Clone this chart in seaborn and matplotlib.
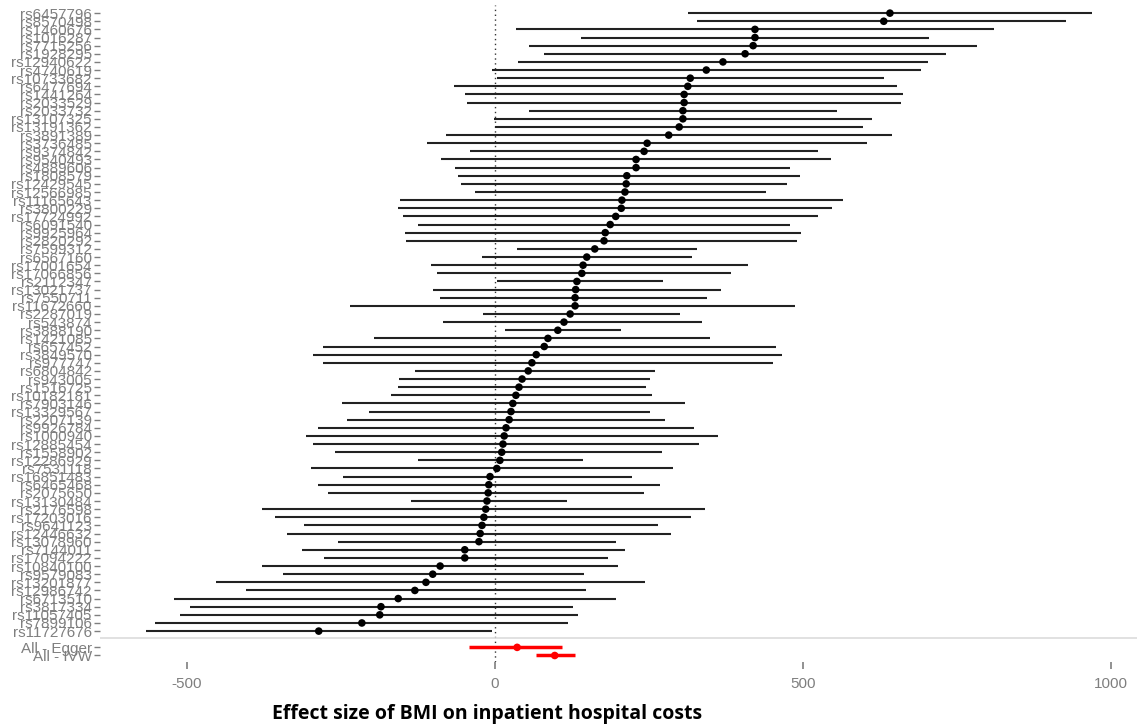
import numpy as np
import pandas as pd
import matplotlib
matplotlib.use("Agg")
import matplotlib.pyplot as plt
import seaborn as sns

snps = ["rs6457796", "rs8570498", "rs1460676", "rs1016287", "rs7715256", "rs1928295",
        "rs12940622", "rs4740619", "rs10733682", "rs6477694", "rs1441264", "rs2033529",
        "rs2033732", "rs13107325", "rs13191362", "rs3891389", "rs3736485", "rs9374842",
        "rs9540493", "rs4889606", "rs1808579", "rs12429545", "rs12566985", "rs11165643",
        "rs3800229", "rs17724992", "rs6091540", "rs9925964", "rs2820292", "rs7599312",
        "rs6567160", "rs17001654", "rs17066856", "rs2112347", "rs13021737", "rs7550711",
        "rs11672660", "rs2287019", "rs543874", "rs3888190", "rs1421085", "rs657452",
        "rs3849570", "rs977747", "rs6804842", "rs943005", "rs1516725", "rs10182181",
        "rs7903146", "rs13329567", "rs2207139", "rs9926784", "rs1000940", "rs12885454",
        "rs1558902", "rs12286929", "rs7531118", "rs16851483", "rs6465468", "rs2075650",
        "rs13130484", "rs2176598", "rs17203016", "rs9641123", "rs12446632", "rs13078960",
        "rs7144011", "rs17094222", "rs10840100", "rs9579083", "rs13201877", "rs12986742",
        "rs6713510", "rs3817334", "rs11057405", "rs7899106", "rs11727676"]

snp_est = [641, 631, 422, 422, 419, 406, 370, 343, 317, 313, 307, 307, 305, 305, 299, 282,
           247, 242, 229, 229, 214, 213, 211, 206, 205, 196, 187, 179, 177, 162, 149, 143,
           141, 133, 131, 130, 130, 122, 112, 102, 86, 80, 67, 60, 54, 44, 39, 34, 29, 26,
           23, 18, 15, 13, 11, 8, 3, -8, -10, -11, -13, -15, -18, -21, -24, -26, -49, -49,
           -89, -101, -112, -130, -157, -185, -187, -216, -286]

snp_lo = [313, 328, 34, 140, 55, 80, 37, -5, 3, -67, -49, -45, 55, -2, 0, -80,
          -110, -41, -88, -65, -60, -55, -32, -154, -157, -149, -125, -146, -144, 36, -21, -104,
          -94, 3, -101, -89, -235, -19, -84, 16, -196, -279, -295, -279, -130, -156, -157, -169,
          -248, -205, -240, -287, -307, -295, -260, -125, -299, -247, -287, -271, -136, -378, -357, -310,
          -338, -255, -313, -278, -378, -344, -453, -404, -521, -495, -511, -552, -567]

snp_hi = [969, 927, 810, 704, 783, 732, 703, 691, 631, 653, 663, 659, 555, 612, 598, 644,
          604, 525, 546, 479, 495, 474, 440, 565, 547, 524, 479, 497, 490, 328, 320, 411,
          383, 273, 367, 344, 487, 300, 336, 205, 349, 456, 466, 451, 260, 252, 245, 255,
          308, 252, 276, 323, 362, 331, 271, 143, 289, 222, 268, 242, 117, 341, 318, 265,
          286, 196, 211, 183, 200, 144, 244, 148, 196, 127, 135, 119, -5]

summary_labels = ["All - Egger", "All - IVW"]
summary_est = [36, 97]
summary_lo = [-42, 67]
summary_hi = [109, 130]

x_ticks = [-500, 0, 500, 1000]
x_label = "Effect size of BMI on inpatient hospital costs"

n_snp = len(snps)
# one empty slot separates the SNP rows from the summary rows
positions = list(range(n_snp)) + [n_snp + 1 + i for i in range(len(summary_labels))]
labels = snps + summary_labels
df = pd.DataFrame({
    "label": labels,
    "pos": positions,
    "est": snp_est + summary_est,
    "lo": snp_lo + summary_lo,
    "hi": snp_hi + summary_hi,
    "group": ["snp"] * n_snp + ["summary"] * len(summary_labels),
})

sns.set_theme(style="white")
plt.rcParams["font.family"] = ["Liberation Sans", "DejaVu Sans"]

fig = plt.figure(figsize=(11.37, 7.26), dpi=100)
ax = fig.add_axes([100 / 1137, 1 - 662 / 726, 1 - 100 / 1137, (662 - 5) / 726])

snp_df = df[df.group == "snp"]
sum_df = df[df.group == "summary"]

ax.hlines(snp_df["pos"], snp_df["lo"], snp_df["hi"], color="#222222", lw=1.5, zorder=2)
ax.hlines(sum_df["pos"], sum_df["lo"], sum_df["hi"], color="#ff0000", lw=2.5, zorder=2)
sns.scatterplot(data=snp_df, x="est", y="pos", color="black", s=30, edgecolor="none",
                ax=ax, zorder=3, legend=False)
sns.scatterplot(data=sum_df, x="est", y="pos", color="#ff0000", s=30, edgecolor="none",
                ax=ax, zorder=3, legend=False)

ax.axvline(0, color="#333333", lw=1.0, ls=(0, (1, 2.5)), zorder=1)
ax.axhline(n_snp - 0.1, color="#dcdcdc", lw=1.2, zorder=1)

ax.set_xlim(-641, 1042)
ax.set_ylim(79.8, -1)
ax.set_xticks(x_ticks)
ax.set_xticklabels([str(t) for t in x_ticks])
ax.set_yticks(df["pos"])
ax.set_yticklabels(df["label"])
ax.tick_params(axis="x", colors="#7f7f7f", labelsize=11, length=5, width=1.2, pad=6,
               direction="out", bottom=True)
ax.tick_params(axis="y", colors="#7f7f7f", labelsize=11, length=4, width=1.0, pad=2,
               direction="out", left=True)
for lab in ax.get_xticklabels() + ax.get_yticklabels():
    lab.set_color("#7f7f7f")
for s in ax.spines.values():
    s.set_visible(False)
ax.set_xlabel("")
ax.set_ylabel("")
ax.grid(False)

fig.text(487 / 1137, 1 - 714 / 726, x_label, ha="center", va="center",
         fontsize=14, fontweight="bold", color="black", family=["Open Sans", "DejaVu Sans"])

fig.savefig("out.png", dpi=100)
